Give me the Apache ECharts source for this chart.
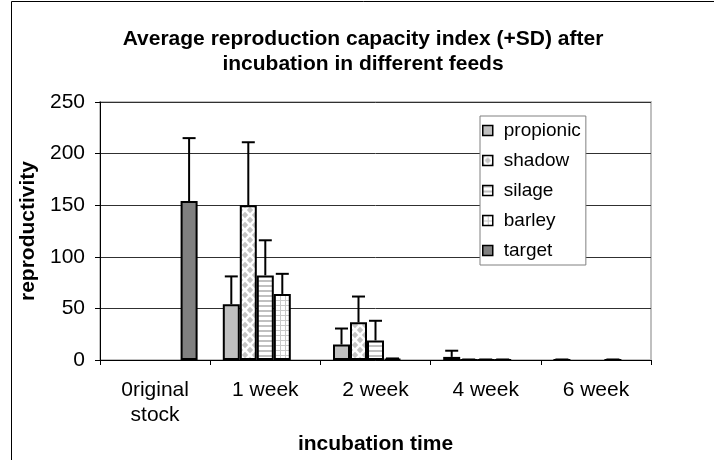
<!DOCTYPE html>
<html>
<head>
<meta charset="utf-8">
<script src="https://cdn.jsdelivr.net/npm/echarts@6/dist/echarts.min.js"></script>
<style>
  html, body { margin: 0; padding: 0; background: #fff; }
  #chart { width: 714px; height: 460px; }
</style>
</head>
<body>
<div id="chart"></div>
<script>
// data
const categories = ['0riginal\nstock', '1 week', '2 week', '4 week', '6 week'];
const seriesNames = ['propionic', 'shadow', 'silage', 'barley', 'target'];

const propionic   = [null, 54, 15, 3, 0];
const propionicSD = [null, 27, 15.5, 6, 0.5];
const shadow      = [null, 150, 36.5, 0, null];
const shadowSD    = [null, 61, 25, 0.5, null];
const silage      = [null, 82, 19, 0, null];
const silageSD    = [null, 34, 19, 0.5, null];
const barley      = [null, 64, 1, 0, 0];
const barleySD    = [null, 19.5, 0.5, 0.5, 0.5];
const target      = [154, null, null, null, null];
const targetSD    = [61, null, null, null, null];

const means = [propionic, shadow, silage, barley, target];
const sds = [propionicSD, shadowSD, silageSD, barleySD, targetSD];

const BAR_W = 17;
const FONT = '"Liberation Sans", Arial, sans-serif';

// fill patterns
function makeTile(w, h, draw) {
    const c = document.createElement('canvas');
    c.width = w; c.height = h;
    const ctx = c.getContext('2d');
    ctx.fillStyle = '#fff';
    ctx.fillRect(0, 0, w, h);
    draw(ctx);
    return { image: c, repeat: 'repeat' };
}
function diamond(ctx, x, y, r) {
    ctx.beginPath();
    ctx.moveTo(x, y - r); ctx.lineTo(x + r, y); ctx.lineTo(x, y + r); ctx.lineTo(x - r, y);
    ctx.closePath(); ctx.fill();
}
const shadowFill = makeTile(10, 10, ctx => {
    ctx.fillStyle = '#c4c4c4';
    diamond(ctx, 5, 5, 3.2);
    diamond(ctx, 0, 0, 3.2); diamond(ctx, 10, 0, 3.2);
    diamond(ctx, 0, 10, 3.2); diamond(ctx, 10, 10, 3.2);
});
const silageFill = makeTile(6, 5, ctx => {
    ctx.fillStyle = '#c0c0c0';
    ctx.fillRect(0, 0, 6, 2);
});
const barleyFill = makeTile(5, 5, ctx => {
    ctx.fillStyle = '#c8c8c8';
    ctx.fillRect(0, 0, 5, 1);
    ctx.fillRect(0, 0, 1, 5);
});
const fills = ['#c0c0c0', shadowFill, silageFill, barleyFill, '#808080'];

const barSeries = seriesNames.map((name, i) => ({
    name: name,
    type: 'bar',
    barWidth: BAR_W,
    barGap: '0%',
    data: means[i],
    itemStyle: { color: fills[i], borderColor: '#000', borderWidth: 2 },
    emphasis: { disabled: true }
}));

const errData = [];
means.forEach((arr, s) => {
    arr.forEach((v, c) => {
        if (v !== null && sds[s][c] !== null) errData.push([c, s, v, sds[s][c]]);
    });
});

// +SD whiskers, one per bar
const errSeries = {
    type: 'custom',
    name: 'SD',
    encode: { x: 0, y: 2 },
    z: 5,
    data: errData,
    renderItem: function (params, api) {
        const c = api.value(0), s = api.value(1), m = api.value(2), sd = api.value(3);
        const p0 = api.coord([c, m]);
        const p1 = api.coord([c, m + sd]);
        const x = p0[0] + (s - 2) * BAR_W;
        const st = { stroke: '#000', lineWidth: 2 };
        return {
            type: 'group',
            children: [
                { type: 'line', shape: { x1: x, y1: p0[1], x2: x, y2: p1[1] }, style: st },
                { type: 'line', shape: { x1: x - 6.5, y1: p1[1], x2: x + 6.5, y2: p1[1] }, style: st }
            ]
        };
    }
};

const chart = echarts.init(document.getElementById('chart'));
chart.setOption({
    animation: false,
    backgroundColor: '#fff',
    title: {
        text: 'Average reproduction capacity index (+SD) after\nincubation in different feeds',
        left: 358,
        textAlign: 'center',
        top: 22,
        textStyle: { fontFamily: FONT, fontSize: 21, fontWeight: 'bold', color: '#000', lineHeight: 25 }
    },
    legend: {
        data: seriesNames,
        orient: 'vertical',
        left: 480,
        top: 116,
        icon: 'rect',
        itemWidth: 10,
        itemHeight: 10,
        itemGap: 11,
        padding: [5, 5, 5, 2],
        borderColor: '#808080',
        borderWidth: 1,
        backgroundColor: '#fff',
        textStyle: { fontFamily: FONT, fontSize: 19, color: '#000', padding: [0, 0, 0, 6] },
        itemStyle: { borderColor: '#000', borderWidth: 1.5 }
    },
    grid: {
        left: 100, right: 63, top: 102, bottom: 100,
        show: true, borderColor: '#c0c0c0', borderWidth: 2, backgroundColor: '#fff'
    },
    xAxis: {
        type: 'category',
        data: categories,
        name: 'incubation time',
        nameLocation: 'middle',
        nameGap: 74,
        nameTextStyle: { fontFamily: FONT, fontSize: 21, fontWeight: 'bold', color: '#000' },
        axisLine: { lineStyle: { color: '#000', width: 1 } },
        axisTick: { show: true, length: 5, lineStyle: { color: '#000' } },
        axisLabel: { fontFamily: FONT, fontSize: 21, color: '#000', margin: 18, lineHeight: 25 },
        splitLine: { show: false }
    },
    yAxis: {
        type: 'value',
        min: 0, max: 250, interval: 50,
        name: 'reproductivity',
        nameLocation: 'middle',
        nameGap: 56,
        nameTextStyle: { fontFamily: FONT, fontSize: 21, fontWeight: 'bold', color: '#000' },
        axisLine: { show: true, lineStyle: { color: '#000', width: 1 } },
        axisTick: { show: true, length: 5, lineStyle: { color: '#000' } },
        axisLabel: { fontFamily: FONT, fontSize: 21, color: '#000', margin: 15 },
        splitLine: { lineStyle: { color: '#303030', width: 1 } }
    },
    graphic: [{
        type: 'rect',
        shape: { x: 11.5, y: 1.5, width: 760, height: 520 },
        style: { fill: null, stroke: '#000', lineWidth: 1 },
        silent: true,
        z: 100
    }],
    series: barSeries.concat([errSeries])
});
</script>
</body>
</html>
